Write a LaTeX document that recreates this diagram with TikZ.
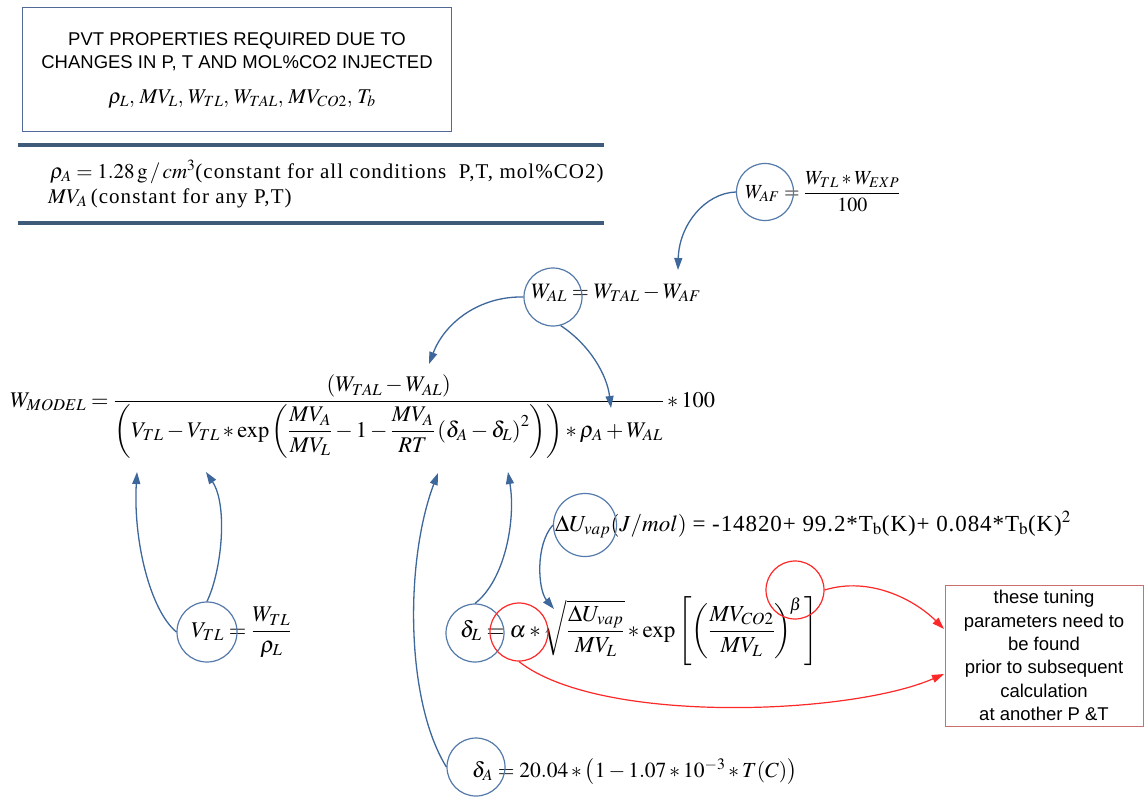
\documentclass[tikz,border=0pt]{standalone}
\usepackage{mathptmx}
\usepackage{fontspec}
\setmainfont{Liberation Serif}
\newfontfamily\arialfont{Liberation Sans}
\usetikzlibrary{arrows.meta}
\definecolor{cblue}{RGB}{84,122,172}
\definecolor{carrow}{RGB}{62,104,156}
\definecolor{cbar}{RGB}{62,92,122}
\definecolor{cbox}{RGB}{80,105,150}
\definecolor{cred}{RGB}{255,40,40}
\definecolor{cboxred}{RGB}{205,110,110}
\newcommand{\dfr}[2]{{\displaystyle\frac{#1}{#2}}}
\begin{document}
\begin{tikzpicture}[x=1pt,y=-1pt,
  ring/.style={circle, draw=cblue, line width=1.2pt, inner sep=0pt, minimum size=#1},
  ring/.default=58pt,
  redring/.style={circle, draw=cred, line width=1.2pt, inner sep=0pt, minimum size=58pt},
  flow/.style={draw=carrow, line width=1.3pt, -{Triangle[length=12pt,width=8pt]}},
  redflow/.style={draw=cred, line width=1.2pt, -{Triangle[length=12pt,width=8pt]}},
  eq/.style={anchor=base west, inner sep=0pt, font=\fontsize{20}{24}\selectfont},
  sanstxt/.style={inner sep=0pt, font=\arialfont\fontsize{18.5}{23.4}\selectfont},
  bar/.style={draw=cbar, line width=4pt}]
\fill[white] (0,0) rectangle (1146,796);
\useasboundingbox (0,0) rectangle (1146,796);

% ---- title box
\node[draw=cbox, line width=1pt, minimum width=429pt, minimum height=124pt, inner sep=0pt] (titlebox) at (236.5,69) {};
\node[sanstxt, anchor=base] (t1) at (237,45) {PVT PROPERTIES REQUIRED DUE TO};
\node[sanstxt, anchor=base] (t2) at (237,68) {CHANGES IN P, T AND MOL\%CO2 INJECTED};
\node[eq, anchor=base, font=\fontsize{21}{24}\selectfont] (t3) at (242,103) {$\rho_L,\,MV_L,\,W_{TL},\,W_{TAL},\,MV_{CO2},\,T_b$};

% ---- constants band
\draw[bar] (18,145) -- (604,145);
\draw[bar] (18,223) -- (604,223);
\node[eq, font=\fontsize{21}{24}\selectfont] (rhoA) at (50,178) {$\rho_A = 1.28\,\mathrm{g}\,/\,cm^3${\addfontfeatures{LetterSpace=5}(constant for all conditions\ \ P,T, mol\%CO2)}};
\node[eq, font=\fontsize{21}{24}\selectfont] (mvA) at (48,203) {$MV_A$\,{\addfontfeatures{LetterSpace=5}(constant for any P,T)}};

% ---- formulas
\node[eq] (fAF) at (745,198) {$\displaystyle W_{AF} = \frac{W_{TL}*W_{EXP}}{100}$};
\node[eq, font=\fontsize{22}{24}\selectfont] (fAL) at (531,298) {$W_{AL} = W_{TAL} - W_{AF}$};
\node[eq, font=\fontsize{22.4}{26}\selectfont] (fmodel) at (10,407) {$\displaystyle W_{MODEL} = \frac{\left(W_{TAL}-W_{AL}\right)}{\left(V_{TL}-V_{TL}*\exp\left(\dfr{MV_A}{MV_L}-1-\dfr{MV_A}{RT}\left(\delta_A-\delta_L\right)^2\right)\right)*\rho_A+W_{AL}}*100$};
\node[eq, font=\fontsize{23}{26}\selectfont] (fDU) at (555,531) {$\Delta U_{vap}(J/mol)$ {\addfontfeatures{LetterSpace=4}= -14820+ 99.2*T$_\mathrm{b}$(K)+ 0.084*T$_\mathrm{b}$(K)$^2$}};
\node[eq, font=\fontsize{23}{26}\selectfont] (fDL) at (460,637) {$\displaystyle \delta_L = \alpha * \sqrt{\frac{\Delta U_{vap}}{MV_L}} * \exp\left[\left(\frac{MV_{CO2}}{MV_L}\right)^{\!\beta}\,\right]$};
\node[eq, font=\fontsize{22.5}{26}\selectfont] (fVTL) at (191,637) {$\displaystyle V_{TL} = \frac{W_{TL}}{\rho_L}$};
\node[eq, font=\fontsize{21.5}{24}\selectfont] (fDA) at (472,777) {$\delta_A = 20.04*\bigl(1-1.07*10^{-3}*T(C)\bigr)$};

% ---- note box
\node[draw=cboxred, line width=1pt, minimum width=198pt, minimum height=141pt, inner sep=0pt,
      align=center, sanstxt] (note) at (1044,655.5)
  {these tuning\\parameters need to\\be found\\prior to subsequent\\calculation\\at another P \&T};

% ---- circles
\node[ring=57pt] (cWAF) at (765,192) {};
\node[ring] (cWAL) at (553,297) {};
\node[ring=60pt] (cVTL) at (207,632) {};
\node[ring] (cDL) at (475,633) {};
\node[ring=63pt] (cDU) at (585,525) {};
\node[ring] (cDA) at (476,767) {};
\node[redring] (cAlpha) at (519,632) {};
\node[redring] (cBeta) at (795,590) {};

% ---- connector end points
\coordinate (e1) at (678,270);
\coordinate (e2) at (429,364);
\coordinate (e3) at (611,408);
\coordinate (e4) at (137,472);
\coordinate (e5) at (206,472);
\coordinate (e6) at (438,473);
\coordinate (e7) at (508,472);
\coordinate (e8) at (554,609);
\coordinate (r1) at (944,629);
\coordinate (r2) at (944,674);

% ---- connectors
\draw[flow] (cWAF.west) .. controls (705,193) and (679,225) .. (e1);
\draw[flow] (cWAL.west) .. controls (480,296) and (445,322) .. (e2);
\draw[flow] (cWAL.-75) .. controls (590,345) and (607,375) .. (e3);
\draw[flow] (cVTL.west) .. controls (150,610) and (133,540) .. (e4);
\draw[flow] (cVTL.north) .. controls (222,570) and (228,505) .. (e5);
\draw[flow] (cDA.west) .. controls (405,700) and (405,560) .. (e6);
\draw[flow] (cDL.north) .. controls (505,580) and (516,520) .. (e7);
\draw[flow] (cDU.west) .. controls (535,545) and (538,590) .. (e8);
\draw[redflow] (cAlpha.south) .. controls (600,725) and (850,715) .. (r2);
\draw[redflow] (cBeta.east) .. controls (870,576) and (915,600) .. (r1);
\end{tikzpicture}
\end{document}
